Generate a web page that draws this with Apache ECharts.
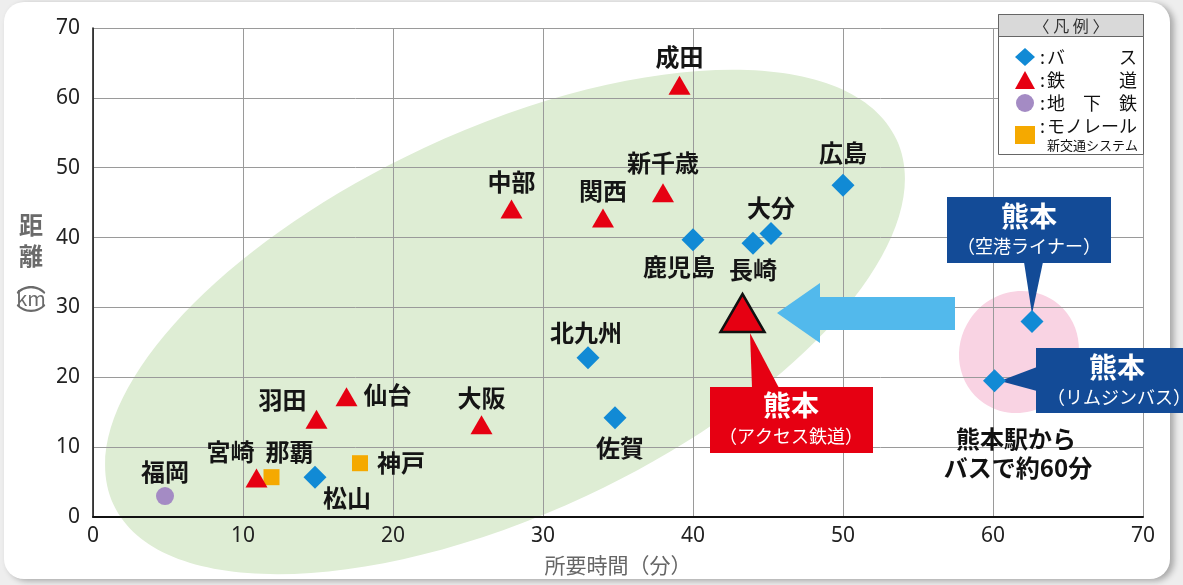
<!DOCTYPE html>
<html><head><meta charset="utf-8">
<script src="https://cdn.jsdelivr.net/npm/echarts@6/dist/echarts.min.js"></script>
<style>html,body{margin:0;padding:0;background:#fff}#c{width:1183px;height:585px}</style>
</head><body><div id="c"></div>
<script>
// ---- data ----
const xTicks = [0, 10, 20, 30, 40, 50, 60, 70];
const yTicks = [0, 10, 20, 30, 40, 50, 60, 70];
const busNames = ['広島', '大分', '長崎', '鹿児島', '北九州', '佐賀', '松山', '熊本（空港ライナー）', '熊本（リムジンバス）'];
const busX = [50, 45.2, 44, 40, 33, 34.8, 14.8, 62.6, 60.1];
const busY = [47.5, 40.6, 39.2, 39.7, 22.8, 14.2, 5.7, 28, 19.5];
const railNames = ['成田', '新千歳', '関西', '中部', '大阪', '仙台', '羽田', '宮崎', '熊本（アクセス鉄道）'];
const railX = [39.1, 38, 34, 27.9, 25.9, 16.9, 14.9, 10.9, 43.3];
const railY = [61.8, 46.4, 42.8, 44.1, 13.2, 17.2, 14, 5.6, 29.2];
const subwayNames = ['福岡'];
const subwayX = [4.8];
const subwayY = [3.0];
const monoNames = ['那覇', '神戸'];
const monoX = [11.9, 17.8];
const monoY = [5.7, 7.7];
const seriesNames = ['バス', '鉄道', '地下鉄', 'モノレール・新交通システム'];

// ---- styling (label placement) ----
const labelOffset = {
  '広島': [0, -32], '大分': [0, -26], '長崎': [0, 27], '鹿児島': [-14, 27], '北九州': [-2, -25], '佐賀': [5, 30], '松山': [32, 21],
  '成田': [0, -28], '新千歳': [0, -30], '関西': [0, -27], '中部': [0, -27], '大阪': [0, -27], '仙台': [41, -2], '羽田': [-34, -19], '宮崎': [-26, -26],
  '福岡': [0, -24], '那覇': [18, -25], '神戸': [41, 0]
};
const FONT = "'Noto Sans CJK JP', 'Noto Sans', sans-serif";

function build(names, xs, ys) {
  return names.map((n, i) => {
    const off = labelOffset[n];
    const item = { name: n, value: [xs[i], ys[i]] };
    item.label = off ? { show: true, offset: off } : { show: false };
    return item;
  });
}
const railData = build(railNames, railX, railY);
railData.forEach(d => {
  if (d.name.indexOf('熊本') === 0) {
    d.symbolSize = [44, 38];
    d.itemStyle = { borderColor: '#111', borderWidth: 2.5 };
  }
});

const baseLabel = {
  position: 'inside', formatter: '{b}', fontSize: 24, fontWeight: 'bold', color: '#151515', fontFamily: FONT
};

const chart = echarts.init(document.getElementById('c'), null, { renderer: 'canvas' });

const whiteT = (x, y, text, font) => ({
  type: 'text', x, y, z: 5,
  style: { text, fill: '#fff', font: font + ' ' + FONT, align: 'center', verticalAlign: 'middle' }
});

chart.setOption({
  backgroundColor: '#eeeeee',
  animation: false,
  textStyle: { fontFamily: FONT },
  grid: { left: 93, right: 40, top: 28, bottom: 68, containLabel: false },
  xAxis: {
    type: 'value', min: xTicks[0], max: xTicks[xTicks.length - 1], interval: 10,
    axisLine: { lineStyle: { color: '#111', width: 2 } },
    axisTick: { show: false },
    splitLine: { lineStyle: { color: '#9a9a9a', width: 1 } },
    axisLabel: { fontSize: 21, color: '#222', margin: 9, fontFamily: "'Noto Sans', sans-serif" },
    name: '所要時間（分）', nameLocation: 'middle', nameGap: 38,
    nameTextStyle: { fontSize: 21, color: '#666', fontFamily: FONT }
  },
  yAxis: {
    type: 'value', min: yTicks[0], max: yTicks[yTicks.length - 1], interval: 10,
    axisLine: { lineStyle: { color: '#111', width: 1.5 } },
    axisTick: { show: false },
    splitLine: { lineStyle: { color: '#9a9a9a', width: 1 } },
    axisLabel: { fontSize: 21, color: '#222', margin: 13, fontFamily: "'Noto Sans', sans-serif" },
    name: '{a|距}\n{a|離}\n{p|︵}\n{k|km}\n{p|︶}', nameLocation: 'middle', nameGap: 62, nameRotate: 0,
    nameTextStyle: {
      align: 'center', padding: [0, 0, 10, 0],
      rich: {
        a: { fontSize: 24, fontWeight: 'bold', color: '#6a6a6a', lineHeight: 31, align: 'center' },
        k: { fontSize: 20, color: '#6a6a6a', lineHeight: 22, align: 'center' },
        p: { fontSize: 30, color: '#6a6a6a', lineHeight: 16, align: 'center' }
      }
    }
  },
  legend: {
    left: 1010, top: 43, orient: 'vertical', itemWidth: 20, itemHeight: 18, itemGap: 5,
    selectedMode: false, data: seriesNames,
    formatter: function (n) {
      if (n === 'バス') return '{c|:}{l|バ}{r|ス}';
      if (n === '鉄道') return '{c|:}{l|鉄}{r|道}';
      if (n === '地下鉄') return '{c|:}{l3|地}{m3|下}{r3|鉄}';
      return '{c|:}{t|モノレール}\n{c| }{s|新交通システム}';
    },
    textStyle: {
      color: '#111',
      rich: {
        c: { fontSize: 18, width: 7, lineHeight: 18, color: '#111' },
        l: { fontSize: 18, width: 45, align: 'left', lineHeight: 18, color: '#111' },
        r: { fontSize: 18, width: 45, align: 'right', lineHeight: 18, color: '#111' },
        l3: { fontSize: 18, width: 30, align: 'left', lineHeight: 18, color: '#111' },
        m3: { fontSize: 18, width: 30, align: 'center', lineHeight: 18, color: '#111' },
        r3: { fontSize: 18, width: 30, align: 'right', lineHeight: 18, color: '#111' },
        t: { fontSize: 18, lineHeight: 20, color: '#111' },
        s: { fontSize: 13, lineHeight: 16, color: '#111' }
      }
    }
  },
  graphic: [
    // frame
    { type: 'rect', z: -20, shape: { x: 4, y: 2, width: 1166, height: 577, r: 20 },
      style: { fill: '#ffffff', shadowColor: 'rgba(0,0,0,0.3)', shadowBlur: 6, shadowOffsetX: 4, shadowOffsetY: 2 } },
    // green region
    { type: 'ellipse', z: -10, x: 505, y: 322, rotation: 25 * Math.PI / 180,
      shape: { cx: 0, cy: 0, rx: 432, ry: 192 }, style: { fill: '#deedd4' } },
    // pink region
    { type: 'ellipse', z: -10, x: 1019, y: 352, rotation: -0.6,
      shape: { cx: 0, cy: 0, rx: 59, ry: 62 }, style: { fill: '#f9d3e3' } },
    // blue arrow
    { type: 'polygon', z: 1,
      shape: { points: [[955, 297], [820, 297], [820, 283], [777, 313], [820, 343], [820, 330], [955, 330]] },
      style: { fill: '#52b9ec' } },
    // red callout
    { type: 'polygon', z: 1, shape: { points: [[752, 388], [750, 333], [779, 388]] }, style: { fill: '#e60012' } },
    { type: 'rect', z: 1, shape: { x: 710, y: 387, width: 163, height: 66 }, style: { fill: '#e60012' } },
    whiteT(791, 405, '熊本', 'bold 28px'),
    whiteT(791, 436, '（アクセス鉄道）', '18px'),
    // navy callout 1
    { type: 'polygon', z: 1, shape: { points: [[1024, 262], [1032, 314], [1043, 262]] }, style: { fill: '#134b97' } },
    { type: 'rect', z: 1, shape: { x: 947, y: 197, width: 164, height: 66 }, style: { fill: '#134b97' } },
    whiteT(1029, 216, '熊本', 'bold 28px'),
    whiteT(1029, 246, '（空港ライナー）', '18px'),
    // navy callout 2
    { type: 'polygon', z: 1, shape: { points: [[1037, 367], [1000, 381], [1037, 391]] }, style: { fill: '#134b97' } },
    { type: 'rect', z: 1, shape: { x: 1036, y: 348, width: 160, height: 65 }, style: { fill: '#134b97' } },
    whiteT(1117, 367, '熊本', 'bold 28px'),
    whiteT(1119, 397, '（リムジンバス）', '18px'),
    // note text
    { type: 'text', z: 5, x: 1016, y: 439,
      style: { text: '熊本駅から', fill: '#111', font: 'bold 24px ' + FONT, align: 'center', verticalAlign: 'middle' } },
    { type: 'text', z: 5, x: 1018, y: 468,
      style: { text: 'バスで約60分', fill: '#111', font: 'bold 24px ' + FONT, align: 'center', verticalAlign: 'middle' } },
    // legend box
    { type: 'rect', z: 3, shape: { x: 998.5, y: 14.5, width: 145, height: 140 }, style: { fill: '#fff', stroke: '#666', lineWidth: 1 } },
    { type: 'rect', z: 3, shape: { x: 998.5, y: 14.5, width: 145, height: 22 }, style: { fill: '#d9d9d9', stroke: '#666', lineWidth: 1 } },
    { type: 'text', z: 4, x: 1071, y: 26,
      style: { text: '〈 凡 例 〉', fill: '#333', font: '16px ' + FONT, align: 'center', verticalAlign: 'middle' } }
  ],
  series: [
    { name: seriesNames[0], type: 'scatter', symbol: 'diamond', symbolSize: 23, z: 3,
      itemStyle: { color: '#118ad5', opacity: 1 }, label: baseLabel, data: build(busNames, busX, busY) },
    { name: seriesNames[1], type: 'scatter', symbol: 'triangle', symbolSize: [22, 19], z: 4,
      itemStyle: { color: '#e60012', opacity: 1 }, label: baseLabel, data: railData },
    { name: seriesNames[2], type: 'scatter', symbol: 'circle', symbolSize: 18, z: 3,
      itemStyle: { color: '#a48bc4', opacity: 1 }, label: baseLabel, data: build(subwayNames, subwayX, subwayY) },
    { name: seriesNames[3], type: 'scatter', symbol: 'rect', symbolSize: 16, z: 3,
      itemStyle: { color: '#f5a900', opacity: 1 }, label: baseLabel, data: build(monoNames, monoX, monoY) }
  ]
});
</script>
</body></html>
